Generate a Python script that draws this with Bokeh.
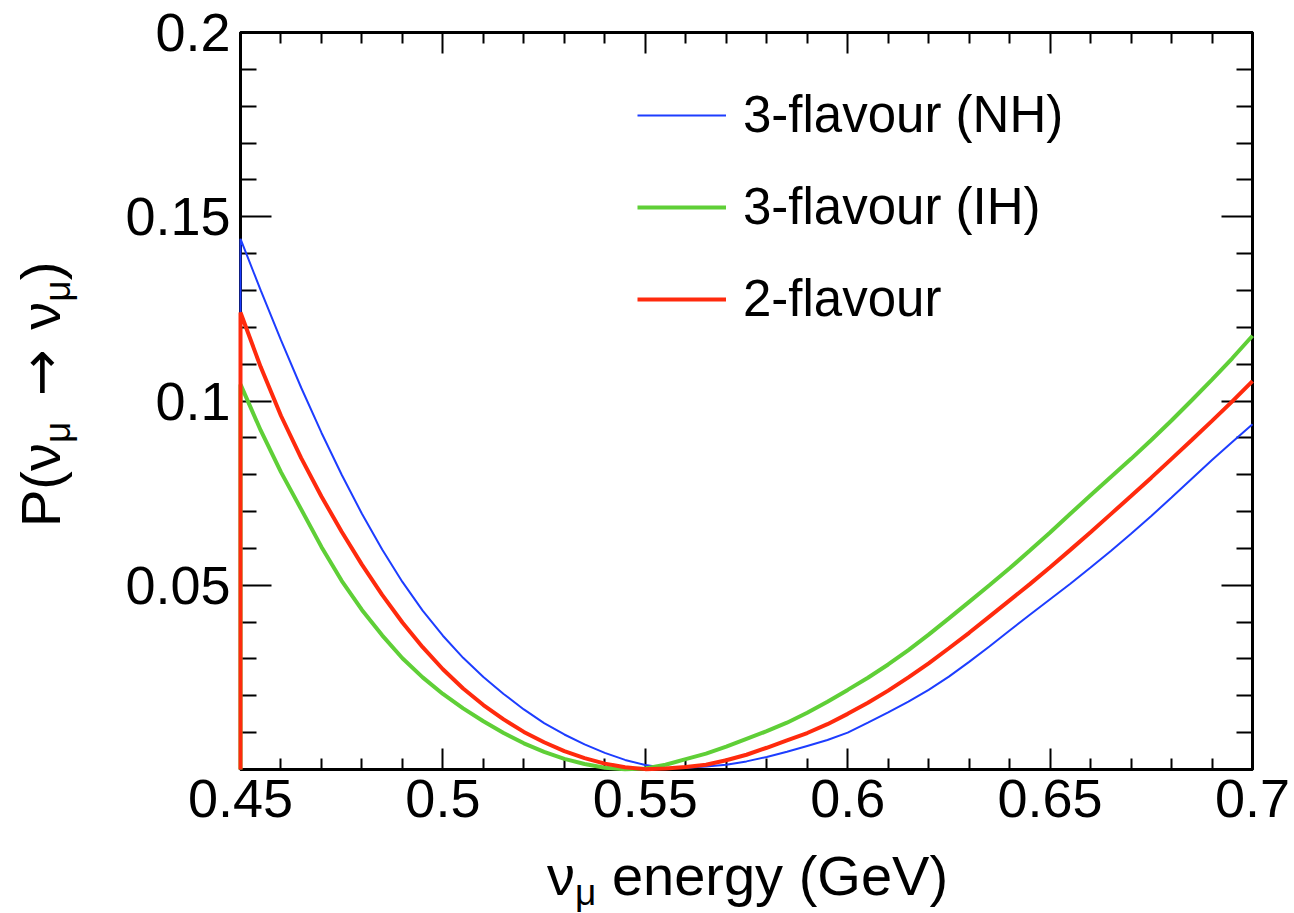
from bokeh.embed import file_html
from bokeh.layouts import column, row
from bokeh.models import (Div, FixedTicker, Legend, LegendItem, LinearAxis,
                          Range1d)
from bokeh.plotting import figure
from bokeh.resources import INLINE

# Neutrino energy (GeV)
energy = [0.450, 0.455, 0.460, 0.465, 0.470, 0.475, 0.480, 0.485, 0.490, 0.495,
          0.500, 0.505, 0.510, 0.515, 0.520, 0.525, 0.530, 0.535, 0.540, 0.545,
          0.550, 0.555, 0.560, 0.565, 0.570, 0.575, 0.580, 0.585, 0.590, 0.595,
          0.600, 0.605, 0.610, 0.615, 0.620, 0.625, 0.630, 0.635, 0.640, 0.645,
          0.650, 0.655, 0.660, 0.665, 0.670, 0.675, 0.680, 0.685, 0.690, 0.695,
          0.700]

# Survival probability, 3-flavour normal hierarchy
p_nh = [0.1440, 0.1300, 0.1165, 0.1036, 0.0914, 0.0800, 0.0694, 0.0597, 0.0509, 0.0431,
        0.0363, 0.0303, 0.0251, 0.0205, 0.0163, 0.0126, 0.0095, 0.0068, 0.0045, 0.0026,
        0.0012, 0.0004, 0.0005, 0.0008, 0.0013, 0.0022, 0.0034, 0.0048, 0.0064, 0.0080,
        0.0100, 0.0127, 0.0155, 0.0184, 0.0216, 0.0252, 0.0292, 0.0334, 0.0377, 0.0420,
        0.0462, 0.0504, 0.0548, 0.0593, 0.0640, 0.0688, 0.0738, 0.0789, 0.0840, 0.0889,
        0.0937]

# Survival probability, 3-flavour inverted hierarchy
p_ih = [0.1045, 0.0920, 0.0807, 0.0706, 0.0604, 0.0512, 0.0433, 0.0364, 0.0302, 0.0250,
        0.0205, 0.0166, 0.0131, 0.0099, 0.0071, 0.0048, 0.0029, 0.0015, 0.0005, 0.0001,
        0.0003, 0.0013, 0.0028, 0.0043, 0.0062, 0.0083, 0.0104, 0.0127, 0.0154, 0.0184,
        0.0216, 0.0249, 0.0285, 0.0324, 0.0366, 0.0410, 0.0455, 0.0500, 0.0546, 0.0594,
        0.0643, 0.0694, 0.0744, 0.0794, 0.0843, 0.0894, 0.0947, 0.1002, 0.1058, 0.1116,
        0.1177]

# Survival probability, 2-flavour approximation
p_2f = [0.1240, 0.1092, 0.0960, 0.0845, 0.0741, 0.0645, 0.0556, 0.0474, 0.0399, 0.0332,
        0.0272, 0.0220, 0.0175, 0.0136, 0.0102, 0.0074, 0.0050, 0.0031, 0.0016, 0.0006,
        0.0001, 0.0003, 0.0007, 0.0013, 0.0025, 0.0040, 0.0059, 0.0079, 0.0099, 0.0123,
        0.0151, 0.0181, 0.0214, 0.0250, 0.0288, 0.0329, 0.0371, 0.0415, 0.0459, 0.0503,
        0.0549, 0.0596, 0.0644, 0.0693, 0.0742, 0.0792, 0.0843, 0.0894, 0.0946, 0.0999,
        0.1054]

series_names = ["3-flavour (NH)", "3-flavour (IH)", "2-flavour"]
series_colors = ["#1d3dff", "#5fcf37", "#ff2a0d"]
series_widths = [2, 4, 4]

x_ticks = [0.45, 0.5, 0.55, 0.6, 0.65, 0.7]
x_tick_labels = ["0.45", "0.5", "0.55", "0.6", "0.65", "0.7"]
x_minor = [0.46, 0.47, 0.48, 0.49, 0.51, 0.52, 0.53, 0.54, 0.56, 0.57, 0.58, 0.59,
           0.61, 0.62, 0.63, 0.64, 0.66, 0.67, 0.68, 0.69]
y_ticks = [0.05, 0.1, 0.15, 0.2]
y_tick_labels = ["0.05", "0.1", "0.15", "0.2"]
y_minor = [0.01, 0.02, 0.03, 0.04, 0.06, 0.07, 0.08, 0.09, 0.11, 0.12, 0.13, 0.14,
           0.16, 0.17, 0.18, 0.19]

x_title_html = "\u03bd<sub>\u03bc</sub> energy (GeV)"
y_title_html = "P(\u03bd<sub>\u03bc</sub> <arrow>\u2192</arrow> \u03bd<sub>\u03bc</sub>)"

FONT = "Liberation Sans"
TICK_FS = "54px"

# Page geometry: title strip on the left, plot, title strip underneath
LEFT_W, FIG_W, FIG_H, BOTTOM_H = 100, 1194, 845, 68

p = figure(width=FIG_W, height=FIG_H,
           x_range=Range1d(0.45, 0.70), y_range=Range1d(0.0, 0.2),
           output_backend="svg", toolbar_location=None,
           min_border_left=140, min_border_right=42,
           min_border_top=32, min_border_bottom=76,
           x_axis_type=None, y_axis_type=None, margin=0)
p.grid.visible = False
p.background_fill_color = "white"
p.border_fill_color = "white"
p.outline_line_color = "black"
p.outline_line_width = 3


def make_axis(ticks, minor, labels, major_len, minor_len, show_labels):
    ax = LinearAxis(ticker=FixedTicker(ticks=ticks, minor_ticks=minor))
    ax.axis_line_color = "black"
    ax.axis_line_width = 3
    ax.major_tick_line_color = "black"
    ax.major_tick_line_width = 2
    ax.minor_tick_line_color = "black"
    ax.minor_tick_line_width = 2
    ax.major_tick_in = major_len
    ax.major_tick_out = 0
    ax.minor_tick_in = minor_len
    ax.minor_tick_out = 0
    ax.major_label_overrides = dict(zip(ticks, labels))
    ax.major_label_text_font = FONT
    ax.major_label_text_font_size = TICK_FS
    ax.major_label_text_color = "black" if show_labels else None
    ax.major_label_standoff = 10
    return ax


p.add_layout(make_axis(x_ticks, x_minor, x_tick_labels, 21, 11, True), "below")
p.add_layout(make_axis(x_ticks, x_minor, x_tick_labels, 21, 11, False), "above")
p.add_layout(make_axis(y_ticks, y_minor, y_tick_labels, 31, 16, True), "left")
p.add_layout(make_axis(y_ticks, y_minor, y_tick_labels, 31, 16, False), "right")

# Curves start from zero at the lower edge of the energy range and are
# drawn above the frame lines
renderers = []
for vals, color, width in zip([p_nh, p_ih, p_2f], series_colors, series_widths):
    xs = [energy[0]] + energy
    ys = [0.0] + vals
    renderers.append(p.line(xs, ys, line_color=color, line_width=width,
                            level="annotation"))

legend = Legend(
    items=[LegendItem(label=name, renderers=[r]) for name, r in zip(series_names, renderers)],
    location=(397, 441), orientation="vertical",
    border_line_color=None, background_fill_alpha=0,
    padding=0, margin=0, spacing=33,
    glyph_width=89, glyph_height=58, label_height=58, label_standoff=17,
    label_text_font=FONT, label_text_font_size="51px", label_text_color="black",
)
p.add_layout(legend, "center")

# Axis titles as HTML text so that the Greek subscripts sit properly
TITLE_PX = 56
SUB_CSS = ("font-size:37px; line-height:0; vertical-align:baseline; "
           "position:relative; top:10px;")
ARROW_CSS = "font-family:'DejaVu Sans'; font-size:56px; line-height:0; margin:0 4px 0 10px;"
BASE_CSS = (f"position:absolute; white-space:nowrap; font-family:'{FONT}'; "
            f"font-size:{TITLE_PX}px; line-height:{TITLE_PX}px; color:black;")


def styled(html):
    html = html.replace("<sub>", f"<span style=\"{SUB_CSS}\">").replace("</sub>", "</span>")
    return html.replace("<arrow>", f"<span style=\"{ARROW_CSS}\">").replace("</arrow>", "</span>")


# baseline sits about 47 px below the top of a 56 px line box
BASELINE = 47

x_title = Div(
    text=(f"<div style=\"position:relative; width:{LEFT_W + FIG_W}px; height:{BOTTOM_H}px;\">"
          f"<div style=\"{BASE_CSS} left:547px; top:{895 - FIG_H - BASELINE}px;\">"
          f"{styled(x_title_html)}</div></div>"),
    width=LEFT_W + FIG_W, height=BOTTOM_H, margin=0)

y_title = Div(
    text=(f"<div style=\"position:relative; width:{LEFT_W}px; height:{FIG_H}px;\">"
          f"<div style=\"{BASE_CSS} left:{60 - BASELINE}px; top:527px; "
          f"transform-origin:0 0; transform:rotate(-90deg);\">"
          f"{styled(y_title_html)}</div></div>"),
    width=LEFT_W, height=FIG_H, margin=0)

page = column(row(y_title, p, margin=0, spacing=0), x_title, margin=0, spacing=0)

open("out.html", "w").write(file_html(page, INLINE))
